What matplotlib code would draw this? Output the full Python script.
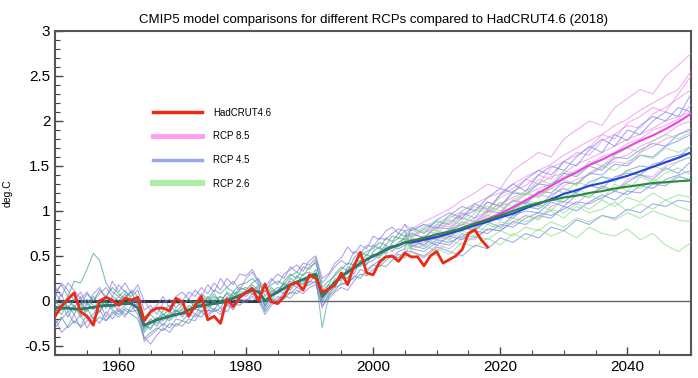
import numpy as np
import matplotlib
matplotlib.use("Agg")
import matplotlib.pyplot as plt
from matplotlib.lines import Line2D
from matplotlib.ticker import MultipleLocator, FuncFormatter

plt.rcParams['font.family'] = ['Liberation Sans', 'DejaVu Sans']

# ---- data ----
hist_years = np.arange(1950, 2006)
fut_years = np.arange(2006, 2051, 2)
obs_years = np.arange(1950, 2019)

hadcrut = [-0.17, -0.06, 0.02, 0.09, -0.12, -0.17, -0.27, 0.00, 0.04, 0.01,
           -0.05, 0.03, 0.01, 0.04, -0.22, -0.12, -0.08, -0.08, -0.11, 0.03,
           -0.01, -0.17, -0.05, 0.05, -0.21, -0.17, -0.25, 0.02, -0.06, 0.04,
           0.09, 0.14, 0.00, 0.19, -0.01, -0.03, 0.05, 0.18, 0.21, 0.12,
           0.29, 0.25, 0.10, 0.13, 0.18, 0.31, 0.18, 0.39, 0.54, 0.31,
           0.29, 0.43, 0.49, 0.50, 0.44, 0.53, 0.49, 0.49, 0.39, 0.50,
           0.55, 0.42, 0.46, 0.50, 0.57, 0.75, 0.79, 0.68, 0.60]

hist_mean = [-0.07, -0.08, -0.08, -0.09, -0.09, -0.08, -0.07, -0.06, -0.05, -0.05,
             -0.04, -0.03, -0.03, -0.08, -0.27, -0.24, -0.21, -0.19, -0.17, -0.15,
             -0.14, -0.10, -0.07, -0.05, -0.04, -0.03, -0.02, 0.00, 0.03, 0.06,
             0.09, 0.12, 0.10, 0.00, 0.06, 0.10, 0.14, 0.18, 0.21, 0.24,
             0.27, 0.30, 0.05, 0.13, 0.21, 0.27, 0.32, 0.37, 0.42, 0.46,
             0.50, 0.53, 0.57, 0.60, 0.62, 0.65]

mean_26 = [0.67, 0.70, 0.74, 0.77, 0.81, 0.86, 0.90, 0.95, 1.00, 1.05, 1.09, 1.12,
           1.15, 1.17, 1.20, 1.22, 1.25, 1.27, 1.29, 1.31, 1.32, 1.33, 1.34]
mean_45 = [0.65, 0.68, 0.71, 0.75, 0.79, 0.84, 0.88, 0.93, 0.97, 1.03, 1.08, 1.13,
           1.19, 1.23, 1.28, 1.31, 1.35, 1.39, 1.44, 1.49, 1.54, 1.59, 1.65]
mean_85 = [0.65, 0.68, 0.71, 0.75, 0.80, 0.86, 0.91, 0.97, 1.04, 1.12, 1.20, 1.28,
           1.36, 1.43, 1.51, 1.57, 1.64, 1.71, 1.78, 1.84, 1.91, 1.99, 2.08]

# historical model runs (1950-2005)
hist_runs = [
    [0.10, 0.18, 0.05, 0.22, 0.20, 0.35, 0.53, 0.45, 0.20, 0.10,
     0.05, 0.12, 0.02, 0.00, -0.20, -0.15, -0.22, -0.10, -0.05, -0.12,
     -0.05, 0.02, -0.08, 0.05, 0.00, 0.08, -0.02, 0.10, 0.05, 0.15,
     0.12, 0.20, 0.25, 0.05, 0.15, 0.08, 0.22, 0.30, 0.25, 0.38,
     0.35, 0.45, 0.12, 0.18, 0.30, 0.38, 0.33, 0.48, 0.55, 0.50,
     0.62, 0.58, 0.70, 0.66, 0.75, 0.72],
    [-0.20, -0.35, -0.28, -0.15, -0.30, -0.22, -0.18, -0.25, -0.12, -0.20,
     -0.10, -0.18, -0.05, -0.15, -0.40, -0.48, -0.38, -0.30, -0.35, -0.25,
     -0.28, -0.20, -0.22, -0.12, -0.18, -0.10, -0.15, -0.05, -0.08, 0.00,
     -0.02, 0.05, 0.00, -0.15, -0.05, 0.02, 0.06, 0.03, 0.12, 0.08,
     0.15, 0.18, -0.05, 0.02, 0.10, 0.15, 0.12, 0.22, 0.30, 0.28,
     0.35, 0.40, 0.38, 0.45, 0.52, 0.48],
    [-0.12, -0.02, -0.18, -0.05, -0.15, -0.02, -0.10, 0.02, -0.08, 0.05,
     0.00, 0.08, -0.02, 0.02, -0.30, -0.20, -0.25, -0.15, -0.20, -0.10,
     -0.15, -0.05, -0.10, 0.00, -0.02, 0.05, 0.00, 0.08, 0.02, 0.12,
     0.15, 0.10, 0.18, -0.08, 0.10, 0.15, 0.12, 0.25, 0.20, 0.30,
     0.32, 0.28, 0.00, 0.10, 0.25, 0.22, 0.38, 0.35, 0.42, 0.52,
     0.48, 0.55, 0.62, 0.58, 0.65, 0.70],
    [0.15, 0.05, 0.20, 0.12, 0.02, 0.10, 0.00, 0.08, 0.15, 0.05,
     0.18, 0.10, 0.05, 0.12, -0.10, -0.05, -0.15, -0.02, 0.02, -0.08,
     0.00, 0.10, 0.05, 0.15, 0.08, 0.20, 0.12, 0.25, 0.18, 0.30,
     0.28, 0.35, 0.22, 0.15, 0.25, 0.18, 0.30, 0.35, 0.40, 0.33,
     0.45, 0.50, 0.25, 0.30, 0.42, 0.48, 0.60, 0.52, 0.62, 0.58,
     0.72, 0.68, 0.78, 0.82, 0.75, 0.85],
    [-0.25, -0.18, -0.30, -0.22, -0.28, -0.15, -0.25, -0.18, -0.22, -0.12,
     -0.18, -0.10, -0.15, -0.20, -0.42, -0.35, -0.30, -0.33, -0.25, -0.28,
     -0.22, -0.25, -0.15, -0.18, -0.10, -0.12, -0.08, -0.12, -0.02, -0.05,
     0.02, 0.00, 0.05, -0.12, -0.02, 0.05, 0.02, 0.10, 0.08, 0.15,
     0.18, 0.22, -0.02, 0.05, 0.12, 0.20, 0.18, 0.28, 0.25, 0.35,
     0.40, 0.38, 0.45, 0.50, 0.48, 0.55],
    [0.02, -0.10, -0.05, -0.15, -0.02, -0.12, 0.05, -0.05, 0.00, -0.08,
     -0.02, 0.05, 0.10, -0.05, -0.35, -0.25, -0.18, -0.22, -0.12, -0.18,
     -0.08, -0.12, 0.00, -0.08, 0.05, -0.02, 0.05, 0.00, 0.10, 0.05,
     0.08, 0.18, 0.12, 0.02, 0.00, 0.12, 0.20, 0.15, 0.28, 0.22,
     0.25, 0.35, 0.08, 0.15, 0.20, 0.32, 0.30, 0.42, 0.45, 0.40,
     0.55, 0.60, 0.52, 0.65, 0.70, 0.68],
    [-0.05, 0.08, -0.12, -0.08, 0.05, -0.20, -0.15, -0.02, -0.18, 0.00,
     -0.12, -0.05, 0.02, -0.08, -0.25, -0.32, -0.20, -0.28, -0.15, -0.10,
     -0.18, -0.08, -0.15, -0.05, -0.12, 0.00, -0.08, 0.05, 0.00, 0.08,
     0.05, 0.12, 0.15, -0.05, 0.08, 0.12, 0.08, 0.20, 0.15, 0.25,
     0.20, 0.30, 0.02, 0.12, 0.18, 0.25, 0.35, 0.30, 0.45, 0.42,
     0.45, 0.52, 0.60, 0.55, 0.62, 0.66],
    [-0.15, -0.05, 0.05, -0.10, -0.08, 0.02, -0.05, -0.12, 0.05, -0.02,
     0.05, -0.02, 0.00, 0.05, -0.28, -0.30, -0.20, -0.15, -0.18, -0.12,
     -0.10, -0.15, -0.05, -0.02, -0.08, 0.02, 0.05, -0.02, 0.08, 0.10,
     0.10, 0.15, 0.08, -0.02, 0.12, 0.08, 0.15, 0.22, 0.18, 0.20,
     0.30, 0.25, -0.30, 0.05, 0.20, 0.30, 0.25, 0.40, 0.38, 0.48,
     0.50, 0.48, 0.58, 0.62, 0.60, 0.72],
    [0.08, 0.00, -0.08, 0.02, -0.05, 0.08, 0.00, 0.12, 0.05, 0.15,
     0.08, 0.02, 0.12, 0.05, -0.18, -0.12, -0.08, -0.15, -0.10, -0.02,
     -0.05, 0.02, -0.02, 0.08, 0.02, 0.12, 0.08, 0.15, 0.10, 0.18,
     0.20, 0.25, 0.18, 0.10, 0.18, 0.22, 0.18, 0.28, 0.32, 0.28,
     0.38, 0.42, 0.15, 0.22, 0.28, 0.35, 0.42, 0.40, 0.50, 0.55,
     0.58, 0.65, 0.62, 0.72, 0.70, 0.78],
    [-0.30, -0.20, -0.12, -0.25, -0.15, -0.30, -0.20, -0.10, -0.22, -0.15,
     -0.08, -0.15, -0.10, -0.02, -0.45, -0.38, -0.32, -0.25, -0.30, -0.20,
     -0.22, -0.15, -0.18, -0.10, -0.15, -0.08, -0.12, -0.02, -0.10, 0.02,
     0.00, 0.08, 0.02, -0.10, 0.02, 0.00, 0.10, 0.08, 0.15, 0.12,
     0.22, 0.20, -0.08, 0.08, 0.15, 0.18, 0.22, 0.25, 0.35, 0.32,
     0.40, 0.45, 0.50, 0.48, 0.55, 0.58],
    [-0.08, -0.15, 0.00, -0.05, -0.18, -0.08, -0.20, -0.12, -0.02, -0.10,
     -0.15, -0.08, -0.12, -0.10, -0.32, -0.22, -0.28, -0.18, -0.22, -0.15,
     -0.12, -0.18, -0.08, -0.12, -0.05, -0.10, 0.00, -0.05, 0.05, 0.02,
     0.12, 0.08, 0.05, -0.05, 0.05, 0.10, 0.18, 0.12, 0.22, 0.18,
     0.28, 0.25, 0.05, 0.18, 0.15, 0.28, 0.25, 0.35, 0.40, 0.45,
     0.52, 0.50, 0.55, 0.60, 0.58, 0.62],
    [0.05, 0.20, 0.12, 0.00, 0.10, -0.05, 0.08, 0.15, 0.02, 0.22,
     0.10, 0.20, 0.08, 0.18, 0.00, -0.10, -0.05, 0.05, -0.08, 0.05,
     0.10, 0.02, 0.12, 0.05, 0.18, 0.10, 0.25, 0.15, 0.22, 0.12,
     0.25, 0.32, 0.20, 0.10, 0.22, 0.30, 0.25, 0.38, 0.32, 0.42,
     0.40, 0.48, 0.20, 0.28, 0.38, 0.45, 0.40, 0.55, 0.52, 0.62,
     0.60, 0.70, 0.68, 0.75, 0.80, 0.78],
]
hist_colors = ['#3f9f88', '#8878e0', '#3f9f88', '#8878e0', '#3f9f88', '#3f9f88',
               '#8878e0', '#50a890', '#3f9f88', '#8878e0', '#3f9f88', '#8878e0']

# scenario runs (2006-2050, every other year)
runs_26 = [
    [0.75, 0.82, 0.90, 0.85, 1.00, 1.08, 1.02, 1.15, 1.22, 1.18, 1.35, 1.30,
     1.45, 1.40, 1.55, 1.50, 1.62, 1.70, 1.65, 1.78, 1.85, 1.80, 1.88],
    [0.55, 0.50, 0.58, 0.52, 0.65, 0.60, 0.70, 0.62, 0.75, 0.68, 0.80, 0.72,
     0.78, 0.70, 0.82, 0.75, 0.72, 0.80, 0.68, 0.75, 0.62, 0.55, 0.65],
    [0.62, 0.72, 0.68, 0.80, 0.78, 0.90, 0.85, 0.98, 0.95, 1.08, 1.02, 1.15,
     1.10, 1.20, 1.15, 1.28, 1.22, 1.30, 1.25, 1.35, 1.30, 1.40, 1.32],
    [0.70, 0.65, 0.78, 0.75, 0.88, 0.82, 0.95, 1.05, 0.98, 1.12, 1.08, 1.00,
     1.15, 1.25, 1.18, 1.12, 1.30, 1.22, 1.38, 1.32, 1.42, 1.48, 1.40],
    [0.68, 0.60, 0.72, 0.68, 0.78, 0.72, 0.85, 0.80, 0.92, 0.88, 0.95, 1.00,
     0.92, 1.05, 0.98, 1.02, 1.10, 1.00, 1.08, 1.02, 1.12, 1.05, 1.00],
    [0.80, 0.75, 0.85, 0.95, 0.90, 1.02, 0.98, 1.10, 1.05, 1.20, 1.15, 1.25,
     1.20, 1.32, 1.28, 1.38, 1.32, 1.45, 1.40, 1.50, 1.45, 1.55, 1.60],
    [0.60, 0.68, 0.65, 0.75, 0.70, 0.82, 0.78, 0.88, 0.85, 0.95, 0.90, 1.02,
     0.98, 1.08, 1.02, 1.12, 1.05, 1.15, 1.10, 1.20, 1.12, 1.18, 1.15],
    [0.72, 0.80, 0.78, 0.90, 0.85, 0.98, 1.05, 1.00, 1.12, 1.20, 1.15, 1.28,
     1.35, 1.28, 1.42, 1.50, 1.45, 1.55, 1.62, 1.58, 1.70, 1.65, 1.72],
    [0.58, 0.62, 0.55, 0.68, 0.62, 0.72, 0.68, 0.78, 0.72, 0.82, 0.78, 0.88,
     0.82, 0.92, 0.88, 0.95, 0.90, 0.98, 0.92, 1.00, 0.95, 0.90, 0.88],
]
runs_45 = [
    [0.78, 0.85, 0.80, 0.95, 1.05, 1.00, 1.15, 1.25, 1.20, 1.35, 1.45, 1.40,
     1.55, 1.50, 1.68, 1.80, 1.72, 1.90, 1.85, 2.00, 2.10, 2.05, 2.30],
    [0.55, 0.48, 0.60, 0.55, 0.50, 0.62, 0.58, 0.70, 0.65, 0.75, 0.70, 0.82,
     0.78, 0.90, 0.85, 0.95, 0.92, 1.02, 0.98, 1.08, 1.05, 1.12, 1.10],
    [0.65, 0.72, 0.70, 0.78, 0.85, 0.82, 0.92, 0.90, 1.02, 1.10, 1.05, 1.18,
     1.25, 1.20, 1.32, 1.38, 1.35, 1.45, 1.50, 1.48, 1.58, 1.62, 1.65],
    [0.60, 0.68, 0.62, 0.72, 0.68, 0.80, 0.88, 0.82, 0.95, 1.00, 0.98, 1.10,
     1.05, 1.18, 1.15, 1.28, 1.22, 1.32, 1.40, 1.35, 1.48, 1.42, 1.55],
    [0.72, 0.80, 0.88, 0.85, 0.98, 0.92, 1.10, 1.05, 1.20, 1.18, 1.30, 1.28,
     1.42, 1.38, 1.50, 1.45, 1.60, 1.58, 1.68, 1.75, 1.72, 1.85, 1.90],
    [0.58, 0.55, 0.65, 0.62, 0.75, 0.70, 0.80, 0.78, 0.88, 0.85, 0.95, 0.92,
     1.05, 1.00, 1.10, 1.18, 1.12, 1.22, 1.20, 1.30, 1.28, 1.38, 1.35],
    [0.82, 0.75, 0.90, 0.98, 0.92, 1.08, 1.02, 1.18, 1.30, 1.22, 1.40, 1.50,
     1.45, 1.60, 1.72, 1.65, 1.85, 1.78, 1.95, 2.05, 2.00, 2.15, 2.10],
    [0.68, 0.62, 0.75, 0.72, 0.82, 0.78, 0.90, 0.95, 0.92, 1.05, 1.02, 1.12,
     1.10, 1.22, 1.28, 1.25, 1.38, 1.42, 1.40, 1.52, 1.55, 1.60, 1.72],
    [0.62, 0.58, 0.68, 0.65, 0.72, 0.78, 0.75, 0.85, 0.82, 0.92, 0.98, 0.95,
     1.02, 1.10, 1.08, 1.15, 1.22, 1.18, 1.28, 1.25, 1.35, 1.40, 1.45],
    [0.75, 0.70, 0.82, 0.80, 0.92, 0.88, 1.00, 0.98, 1.12, 1.08, 1.22, 1.20,
     1.32, 1.30, 1.42, 1.40, 1.52, 1.50, 1.62, 1.60, 1.72, 1.78, 1.85],
]
runs_85 = [
    [0.80, 0.88, 0.95, 1.02, 1.12, 1.20, 1.30, 1.25, 1.45, 1.55, 1.65, 1.60,
     1.80, 1.90, 2.00, 1.95, 2.15, 2.25, 2.35, 2.30, 2.50, 2.62, 2.75],
    [0.55, 0.50, 0.62, 0.58, 0.70, 0.68, 0.80, 0.78, 0.88, 0.95, 0.92, 1.05,
     1.10, 1.08, 1.20, 1.25, 1.22, 1.35, 1.40, 1.38, 1.50, 1.55, 1.60],
    [0.65, 0.72, 0.70, 0.80, 0.85, 0.92, 1.00, 1.08, 1.15, 1.22, 1.30, 1.38,
     1.42, 1.52, 1.58, 1.65, 1.72, 1.80, 1.85, 1.92, 2.00, 2.05, 2.10],
    [0.70, 0.78, 0.75, 0.88, 0.95, 1.05, 1.00, 1.18, 1.25, 1.35, 1.30, 1.48,
     1.55, 1.65, 1.62, 1.78, 1.85, 1.95, 1.92, 2.08, 2.15, 2.25, 2.35],
    [0.60, 0.65, 0.72, 0.70, 0.82, 0.80, 0.92, 0.98, 1.05, 1.10, 1.18, 1.15,
     1.28, 1.35, 1.40, 1.48, 1.55, 1.52, 1.65, 1.72, 1.80, 1.85, 1.92],
    [0.75, 0.70, 0.85, 0.82, 0.95, 1.00, 1.10, 1.05, 1.22, 1.28, 1.40, 1.35,
     1.55, 1.62, 1.70, 1.85, 1.80, 1.98, 2.05, 2.15, 2.10, 2.30, 2.50],
    [0.68, 0.62, 0.75, 0.78, 0.88, 0.85, 0.98, 1.05, 1.10, 1.18, 1.25, 1.30,
     1.38, 1.45, 1.52, 1.60, 1.65, 1.75, 1.80, 1.90, 1.95, 2.02, 2.18],
    [0.62, 0.70, 0.68, 0.75, 0.82, 0.88, 0.95, 0.92, 1.05, 1.12, 1.18, 1.25,
     1.32, 1.30, 1.42, 1.50, 1.58, 1.62, 1.72, 1.78, 1.85, 1.95, 2.00],
    [0.78, 0.85, 0.82, 0.92, 1.00, 1.08, 1.15, 1.20, 1.30, 1.38, 1.45, 1.52,
     1.62, 1.70, 1.78, 1.85, 1.95, 2.02, 2.12, 2.20, 2.28, 2.35, 2.55],
]

baseline_years = [1950, 1982]
baseline_vals = [0.0, 0.0]

labels = ['HadCRUT4.6', 'RCP 8.5', 'RCP 4.5', 'RCP 2.6']

# ---- figure ----
fig = plt.figure(figsize=(6.98, 3.78), dpi=100)
ax = fig.add_axes([0.079, 0.061, 0.911, 0.857])

ax.axhline(0, color='#666666', lw=1.0, zorder=1)
ax.plot(baseline_years, baseline_vals, color='#333344', lw=2.2, zorder=2)

for run, c in zip(hist_runs, hist_colors):
    ax.plot(hist_years, run, color=c, lw=0.75, alpha=0.7, zorder=3)

def scen(runs, color, offset):
    for i, run in enumerate(runs):
        start = hist_runs[(i + offset) % len(hist_runs)][-1]
        ax.plot(np.r_[2005, fut_years], np.r_[start, run], color=color,
                lw=0.75, alpha=0.7, zorder=3)

scen(runs_85, '#ee88ee', 0)
scen(runs_45, '#7383ee', 3)
scen(runs_26, '#88dc88', 6)

ax.plot(hist_years, hist_mean, color='#2244dd', lw=1.8, zorder=5)
ax.plot(hist_years, hist_mean, color='#2a8a3a', lw=1.3, zorder=5)
ax.plot(np.r_[2005, fut_years], np.r_[hist_mean[-1], mean_85], color='#ee44dd', lw=1.5, zorder=5)
ax.plot(np.r_[2005, fut_years], np.r_[hist_mean[-1], mean_45], color='#2244dd', lw=1.5, zorder=5)
ax.plot(np.r_[2005, fut_years], np.r_[hist_mean[-1], mean_26], color='#2a8a3a', lw=1.5, zorder=5)

ax.plot(obs_years, hadcrut, color='#ee2a14', lw=2.0, zorder=6)

ax.set_xlim(1950, 2050)
ax.set_ylim(-0.6, 3.0)
ax.xaxis.set_major_locator(MultipleLocator(20))
ax.xaxis.set_minor_locator(MultipleLocator(5))
ax.yaxis.set_major_locator(MultipleLocator(0.5))
ax.yaxis.set_minor_locator(MultipleLocator(0.1))
ax.yaxis.set_major_formatter(FuncFormatter(lambda v, p: '%g' % v))
ax.tick_params(which='both', direction='in', top=False, right=False,
               labelsize=11, color='#444444')
ax.tick_params(which='major', length=6, width=1.0)
ax.tick_params(which='minor', length=3.5, width=0.8)
for s in ax.spines.values():
    s.set_color('#555555')
    s.set_linewidth(1.5)

ax.set_ylabel('deg.C', fontsize=7.5, labelpad=8)
ax.set_title('CMIP5 model comparisons for different RCPs compared to HadCRUT4.6 (2018)',
             fontsize=9.5, pad=6)

handles = [Line2D([], [], color='#ee2a14', lw=2.5),
           Line2D([], [], color='#ff9cf0', lw=3.5),
           Line2D([], [], color='#9aa8f0', lw=2.5),
           Line2D([], [], color='#aaeeaa', lw=4.5)]
ax.legend(handles, labels, loc='upper left', bbox_to_anchor=(0.14, 0.79),
          frameon=False, fontsize=7, handlelength=5.0, handletextpad=1.2,
          labelspacing=1.4)

fig.savefig('out.png', dpi=100)
